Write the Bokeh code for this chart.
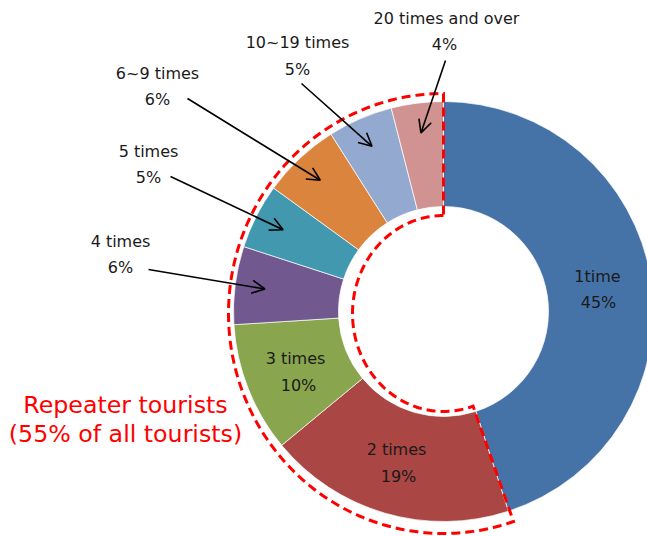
import numpy as np
from bokeh.plotting import figure
from bokeh.models import ColumnDataSource, Range1d, Arrow, OpenHead
from bokeh.embed import file_html
from bokeh.resources import INLINE
from bokeh.core.properties import value

# ---- data ----
categories = ["1time", "2 times", "3 times", "4 times", "5 times",
              "6~9 times", "10~19 times", "20 times and over"]
shares = [45, 19, 10, 6, 5, 6, 5, 4]
colors = ["#4572A7", "#AA4643", "#89A54E", "#71588F", "#4198AF",
          "#DB843D", "#93A9CF", "#D19392"]
callout_title = ["Repeater tourists", "(55% of all tourists)"]

# ---- layout ----
W, H = 647, 536
def px(x):
    return x
def py(y):
    return H - y

CX, CY = px(443), py(311)
R_IN, R_OUT = 105, 210
FONT = "DejaVu Sans"

p = figure(width=W, height=H, x_range=Range1d(0, W), y_range=Range1d(0, H),
           output_backend="svg", toolbar_location=None,
           x_axis_location=None, y_axis_location=None, min_border=0)
p.grid.visible = False
p.outline_line_color = None
p.background_fill_color = "white"
p.border_fill_color = "white"

vals = np.array(shares, dtype=float)
frac = vals / vals.sum()
c1 = np.cumsum(frac)
c0 = c1 - frac
start = np.pi / 2 - 2 * np.pi * c1
end = np.pi / 2 - 2 * np.pi * c0
mid = np.pi / 2 - 2 * np.pi * (c0 + c1) / 2

src = ColumnDataSource(dict(start=start, end=end, color=colors, cat=categories,
                            val=shares))
p.annular_wedge(x=CX, y=CY, inner_radius=R_IN, outer_radius=R_OUT,
                start_angle="start", end_angle="end", direction="anticlock",
                fill_color="color", line_color="white", line_width=1,
                line_alpha=0.7, source=src)

# ---- dashed callout outline around repeaters ----
ECX, ECY = px(443), py(313)
o_rx, o_ry = 215, 220
i_rx, i_ry = 91, 98
a_top = np.pi / 2
a_bot = np.deg2rad(289)
phi_in = np.linspace(a_top, a_bot, 200)
phi_out = np.linspace(a_bot, a_top, 200)
xs = np.concatenate([ECX + i_rx * np.cos(phi_in), ECX + o_rx * np.cos(phi_out),
                     [ECX + i_rx * np.cos(a_top)]])
ys = np.concatenate([ECY + i_ry * np.sin(phi_in), ECY + o_ry * np.sin(phi_out),
                     [ECY + i_ry * np.sin(a_top)]])
p.line(xs, ys, line_color="#FF0000", line_width=3, line_dash="9 5",
       line_join="miter")

# ---- labels ----
name_pos = {0: (597, 276), 1: (396, 449), 2: (295, 358), 3: (120, 241),
            4: (148, 151), 5: (157, 73), 6: (297, 42), 7: (446, 18)}
pct_pos = {0: (598, 302), 1: (398, 476), 2: (298, 385), 3: (120, 267),
           4: (148, 177), 5: (157, 99), 6: (297, 69), 7: (444, 44)}
arrow_start = {3: (148, 269), 4: (170, 176), 5: (187, 98), 6: (301, 83),
               7: (445, 60)}

tx, ty, tt = [], [], []
for i, cat in enumerate(categories):
    nx, ny = name_pos[i]
    qx, qy = pct_pos[i]
    tx += [px(nx), px(qx)]
    ty += [py(ny), py(qy)]
    tt += [cat, f"{shares[i]}%"]
p.text(x=tx, y=ty, text=tt, text_font=value(FONT), text_font_size="16px",
       text_color="#1a1a1a", text_align="center", text_baseline="middle")

R_TIP = 180
for i, (sx, sy) in arrow_start.items():
    ex = CX + R_TIP * np.cos(mid[i])
    ey = CY + R_TIP * np.sin(mid[i])
    p.add_layout(Arrow(end=OpenHead(size=13, line_width=1.6, line_color="black"),
                       x_start=px(sx), y_start=py(sy), x_end=ex, y_end=ey,
                       line_width=1.6, line_color="black"))

p.text(x=[px(125), px(125)], y=[py(404), py(433)], text=callout_title,
       text_font=value(FONT), text_font_size="23.7px", text_color="#FF0000",
       text_align="center", text_baseline="middle")

open("out.html", "w").write(file_html(p, INLINE))
